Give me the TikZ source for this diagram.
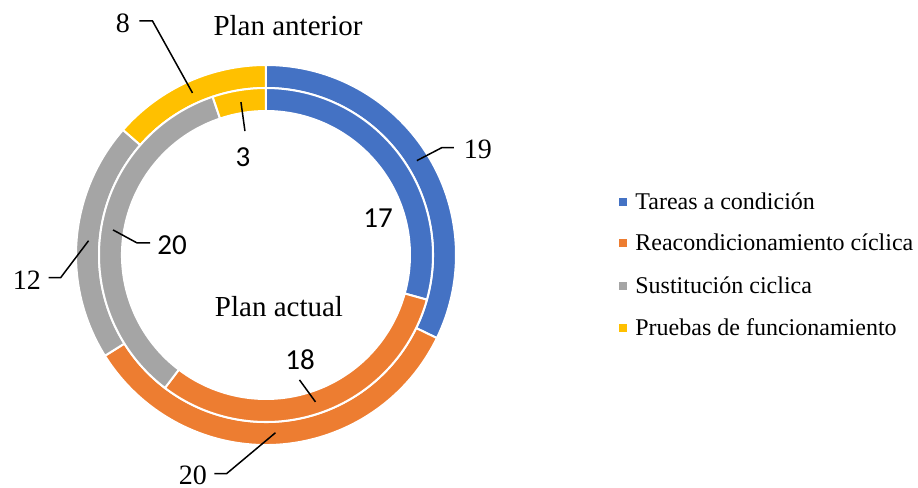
\documentclass[tikz,border=0pt]{standalone}
\usepackage{fontspec}
\setmainfont{Liberation Serif}
\newfontfamily\calibrifont{Carlito}
\definecolor{tareas}{HTML}{4472C4}
\definecolor{reacond}{HTML}{ED7D31}
\definecolor{sustit}{HTML}{A5A5A5}
\definecolor{pruebas}{HTML}{FFC000}

\begin{document}
\begin{tikzpicture}[x=0.5pt, y=0.5pt,
  seg/.style={draw=white, line width=1pt},
  outlbl/.style={font=\fontsize{14}{16}\selectfont, inner sep=0pt},
  inlbl/.style={font=\calibrifont\fontsize{14.5}{17}\selectfont, inner sep=0pt},
  titlbl/.style={font=\fontsize{14.5}{17}\selectfont, inner sep=0pt, anchor=base},
  leader/.style={draw=black, line width=0.75pt},
  legsq/.style={fill=#1, minimum size=4pt, inner sep=0pt},
  legtxt/.style={font=\fontsize{12}{14}\selectfont, inner sep=0pt, anchor=base west}]
\useasboundingbox (-266,-233) rectangle (652,255);
% Rings
\foreach \a/\b/\c in {90/-25.932/tareas, -25.932/-147.966/reacond,
                      -147.966/-221.186/sustit, -221.186/-270/pruebas}
  \fill[seg, fill=\c] (\a:190) arc[start angle=\a, end angle=\b, radius=190]
    -- (\b:167) arc[start angle=\b, end angle=\a, radius=167] -- cycle;
\foreach \a/\b/\c in {90/-15.517/tareas, -15.517/-127.241/reacond,
                      -127.241/-251.379/sustit, -251.379/-270/pruebas}
  \fill[seg, fill=\c] (\a:167) arc[start angle=\a, end angle=\b, radius=167]
    -- (\b:144) arc[start angle=\b, end angle=\a, radius=144] -- cycle;
% Titles
\node[titlbl] (anterior) at (22,220) {Plan anterior};
\node[titlbl] (actual) at (13,-61) {Plan actual};
% Value labels
\node[outlbl] (v19) at (212,106) {19};
\node[outlbl] (v20o) at (-73,-220.5) {20};
\node[outlbl] (v12) at (-239,-25) {12};
\node[outlbl] (v8) at (-143,232) {8};
\node[inlbl] (v17) at (112,37) {17};
\node[inlbl] (v18) at (34,-105) {18};
\node[inlbl] (v20i) at (-94,10) {20};
\node[inlbl] (v3) at (-23,98) {3};
% Leader lines
\coordinate (p19) at (32.03:178);
\coordinate (p20o) at (-86.95:178);
\coordinate (p12) at (175.4:178);
\coordinate (p8) at (114.4:178);
\coordinate (p18) at (-71.38:155);
\coordinate (p20i) at (170.69:155);
\coordinate (p3) at (99.3:155);
\draw[leader] (p19) -- ++(25,13) -- ++(12,0);
\draw[leader] (p20o) -- ++(-49,-41) -- ++(-12,0);
\draw[leader] (p12) -- ++(-28,-37) -- ++(-12,0);
\draw[leader] (p8) -- ++(-40,72) -- ++(-13,0);
\draw[leader] (p18) -- ++(-16,22);
\draw[leader] (p20i) -- ++(24,-13) -- ++(13,0);
\draw[leader] (p3) -- ++(4,-29);
% Legend
\node[legsq=tareas] (sq1) at (357,53) {};
\node[legsq=reacond] (sq2) at (357,12) {};
\node[legsq=sustit] (sq3) at (357,-31) {};
\node[legsq=pruebas] (sq4) at (357,-73) {};
\node[legtxt] (lg1) at (369,46) {Tareas a condición};
\node[legtxt] (lg2) at (369,4.5) {Reacondicionamiento cíclica};
\node[legtxt] (lg3) at (369,-38) {Sustitución ciclica};
\node[legtxt] (lg4) at (369,-80) {Pruebas de funcionamiento};
\end{tikzpicture}
\end{document}
